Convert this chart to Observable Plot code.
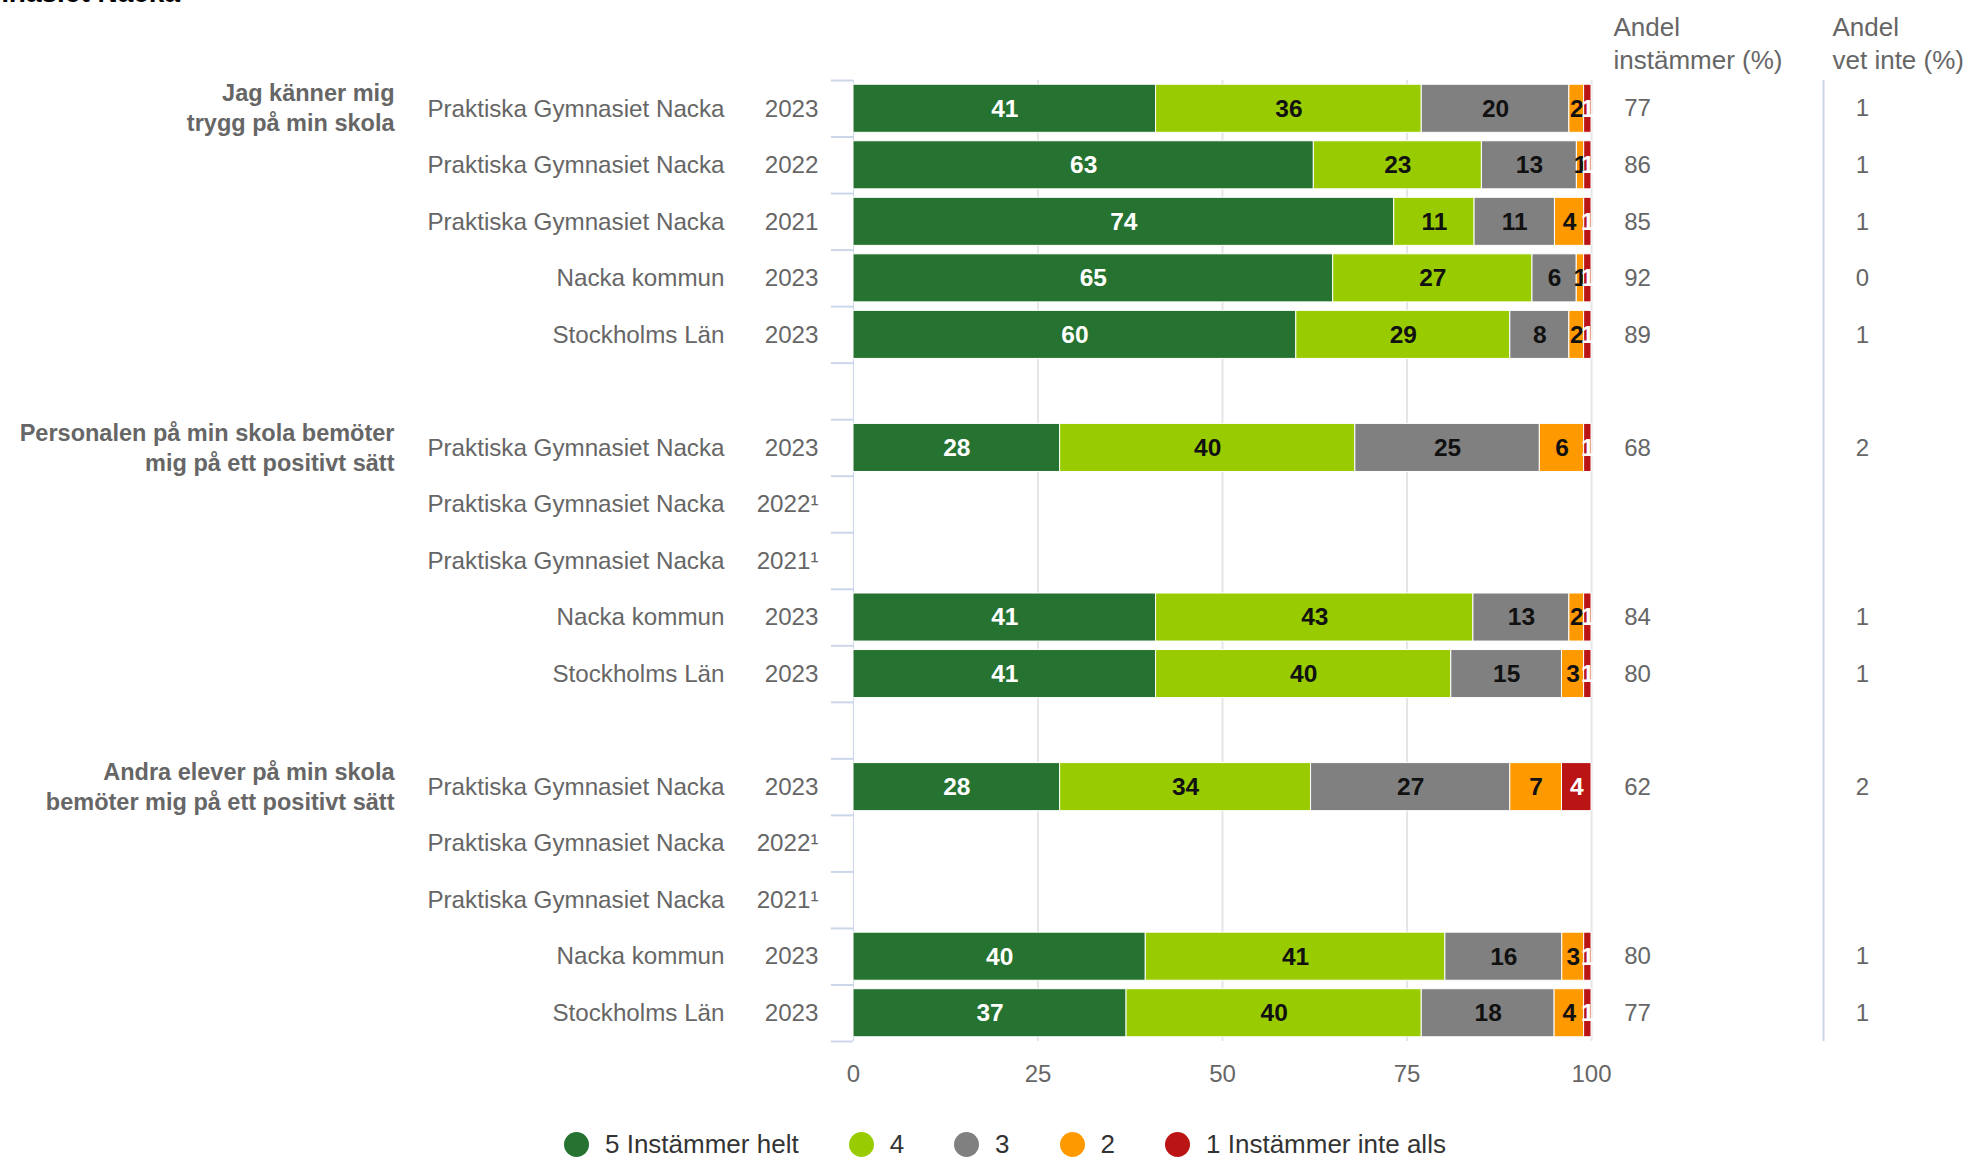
<!DOCTYPE html>
<html>
<head>
<meta charset="utf-8">
<script src="https://cdn.jsdelivr.net/npm/d3@7"></script>
<script src="https://cdn.jsdelivr.net/npm/@observablehq/plot@0.6"></script>
<style>
  html, body { margin: 0; padding: 0; background: #fff; }
  #wrap { position: relative; width: 1967px; height: 1157px; overflow: hidden; font-family: 'Liberation Sans', Arial, sans-serif; }
  #title { position: absolute; right: 1787px; top: -21px; font-size: 28px; line-height: 28px; font-weight: bold; color: #000; white-space: nowrap; }
  #chart { position: absolute; left: 0; top: 0; }
  #legend { position: absolute; left: 564px; top: 1129px; display: flex; align-items: center; font-size: 26px; color: #333; white-space: nowrap; }
  .item { display: flex; align-items: center; margin-right: 50px; }
  .dot { width: 25px; height: 25px; border-radius: 50%; margin-right: 16px; }
</style>
</head>
<body>
<div id="wrap">
  <div id="title">Trygghet och studiero – Praktiska Gymnasiet Nacka</div>
  <div id="chart"></div>
  <div id="legend"></div>
</div>
<script>
// ---- data ----
const categories = ["5 Instämmer helt", "4", "3", "2", "1 Instämmer inte alls"];
const colors = ["#267230", "#99cc00", "#808080", "#ff9900", "#bb1414"];
const labelColors = ["#ffffff", "#111111", "#111111", "#111111", "#ffffff"];

const questions = [
  "Jag känner mig\ntrygg på min skola",
  "Personalen på min skola bemöter\nmig på ett positivt sätt",
  "Andra elever på min skola\nbemöter mig på ett positivt sätt"
];
const units = ["Praktiska Gymnasiet Nacka", "Praktiska Gymnasiet Nacka", "Praktiska Gymnasiet Nacka", "Nacka kommun", "Stockholms Län"];
const q1Years = ["2023", "2022", "2021", "2023", "2023"];
const q2Years = ["2023", "2022¹", "2021¹", "2023", "2023"];
const q3Years = ["2023", "2022¹", "2021¹", "2023", "2023"];

const q1Values = [[41, 36, 20, 2, 1], [63, 23, 13, 1, 1], [74, 11, 11, 4, 1], [65, 27, 6, 1, 1], [60, 29, 8, 2, 1]];
const q2Values = [[28, 40, 25, 6, 1], null, null, [41, 43, 13, 2, 1], [41, 40, 15, 3, 1]];
const q3Values = [[28, 34, 27, 7, 4], null, null, [40, 41, 16, 3, 1], [37, 40, 18, 4, 1]];

const q1Agree = [77, 86, 85, 92, 89];
const q2Agree = [68, null, null, 84, 80];
const q3Agree = [62, null, null, 80, 77];

const q1DontKnow = [1, 1, 1, 0, 1];
const q2DontKnow = [2, null, null, 1, 1];
const q3DontKnow = [2, null, null, 1, 1];

const xTicks = [0, 25, 50, 75, 100];
const headers = ["Andel\ninstämmer (%)", "Andel\nvet inte (%)"];

// ---- build tables ----
const groups = [
  {q: questions[0], years: q1Years, values: q1Values, agree: q1Agree, dk: q1DontKnow},
  {q: questions[1], years: q2Years, values: q2Values, agree: q2Agree, dk: q2DontKnow},
  {q: questions[2], years: q3Years, values: q3Values, agree: q3Agree, dk: q3DontKnow}
];
const keys = [], rows = [], segs = [], groupLabels = [];
groups.forEach((g, gi) => {
  if (gi > 0) keys.push("gap" + gi);
  g.values.forEach((v, ri) => {
    const key = `q${gi}r${ri}`;
    keys.push(key);
    rows.push({key, unit: units[ri], year: g.years[ri], agree: g.agree[ri], dk: g.dk[ri]});
    if (ri === 0) groupLabels.push({key, text: g.q});
    if (v) v.forEach((val, ci) => segs.push({key, cat: categories[ci], ci, value: val}));
  });
});

// ---- layout ----
const W = 1967, H = 1100, mL = 853, mR = 376, mT = 80, mB = 59;
const step = (H - mT - mB) / keys.length;

const chart = Plot.plot({
  width: W, height: H,
  marginLeft: mL, marginRight: mR, marginTop: mT, marginBottom: mB,
  style: {fontFamily: "'Liberation Sans', Arial, sans-serif", fontSize: "24px", color: "#666", background: "transparent"},
  x: {domain: [0, 1], axis: null},
  y: {domain: keys, paddingInner: 0.15, paddingOuter: 0.075, round: false, axis: null},
  color: {domain: categories, range: colors},
  marks: [
    Plot.gridX(xTicks.slice(1).map(t => t / 100), {stroke: "#e6e6e6", strokeOpacity: 1, strokeWidth: 2}),
    Plot.ruleX([0], {stroke: "#ccd6eb", strokeWidth: 1}),
    Plot.ruleX([1], {dx: 232, stroke: "#ccd6eb", strokeWidth: 2}),
    Plot.ruleY(keys, {y: d => d, x1: -0.03, x2: 0, dy: -step / 2, stroke: "#ccd6eb", strokeWidth: 2}),
    Plot.ruleY(keys.slice(-1), {y: d => d, x1: -0.03, x2: 0, dy: step / 2, stroke: "#ccd6eb", strokeWidth: 2}),
    Plot.barX(segs, Plot.stackX({x: "value", y: "key", fill: "cat", offset: "normalize", stroke: "#fff", strokeWidth: 1})),
    Plot.text(segs, Plot.stackX({x: "value", y: "key", z: "cat", offset: "normalize", text: d => String(d.value),
      fill: d => labelColors[d.ci], fontWeight: "bold", fontSize: 24.5})),
    Plot.axisX(xTicks.map(t => t / 100), {tickFormat: d => Math.round(d * 100), tickSize: 0, tickPadding: 23, fontSize: 24, fill: "#666", label: null}),
    Plot.text(rows, {y: "key", text: "unit", frameAnchor: "left", dx: -129, textAnchor: "end", fill: "#666", fontSize: 24.2}),
    Plot.text(rows, {y: "key", text: "year", frameAnchor: "left", dx: -35, textAnchor: "end", fill: "#666", fontSize: 24.2}),
    Plot.text(groupLabels, {y: "key", text: "text", frameAnchor: "left", dx: -459, dy: -2, textAnchor: "end", lineAnchor: "middle", lineHeight: 1.28, fill: "#666", fontWeight: "bold", fontSize: 23.5}),
    Plot.text(rows.filter(r => r.agree != null), {y: "key", text: "agree", frameAnchor: "right", dx: 46, textAnchor: "middle", fill: "#666", fontSize: 24}),
    Plot.text(rows.filter(r => r.dk != null), {y: "key", text: "dk", frameAnchor: "right", dx: 271, textAnchor: "middle", fill: "#666", fontSize: 24}),
    Plot.text(headers.slice(0, 1), {text: d => d, frameAnchor: "top-right", dx: 22, dy: -69, textAnchor: "start", lineAnchor: "top", lineHeight: 1.3, fill: "#666", fontSize: 26}),
    Plot.text(headers.slice(1), {text: d => d, frameAnchor: "top-right", dx: 241, dy: -69, textAnchor: "start", lineAnchor: "top", lineHeight: 1.3, fill: "#666", fontSize: 26})
  ]
});
document.getElementById("chart").appendChild(chart);

// ---- legend ----
const legend = document.getElementById("legend");
categories.forEach((c, i) => {
  const item = document.createElement("div");
  item.className = "item";
  const dot = document.createElement("span");
  dot.className = "dot";
  dot.style.background = colors[i];
  const lab = document.createElement("span");
  lab.textContent = c;
  item.appendChild(dot); item.appendChild(lab);
  legend.appendChild(item);
});
</script>
</body>
</html>
